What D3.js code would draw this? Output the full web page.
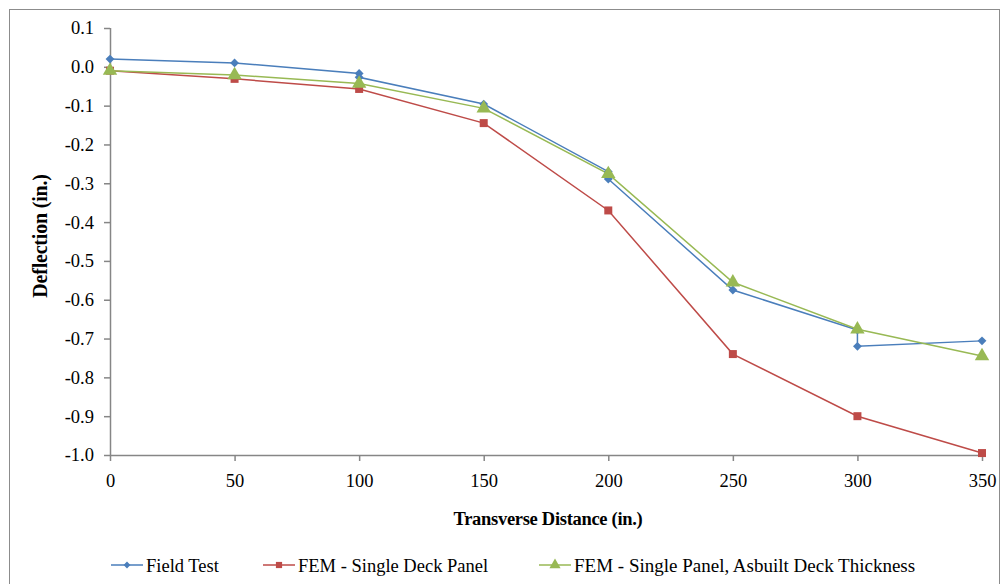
<!DOCTYPE html>
<html><head><meta charset="utf-8">
<script src="https://cdn.jsdelivr.net/npm/d3@7"></script>
<style>body{margin:0;background:#fff}svg{display:block}text{font-family:"Liberation Serif","Times New Roman",serif}</style>
</head><body><svg id="c" width="1003" height="584"></svg>
<script>
const fieldX = [0,50,100,100,150,200,200,250,300,300,350];
const fieldY = [0.02,0.01,-0.017,-0.027,-0.096,-0.27,-0.289,-0.575,-0.678,-0.72,-0.706];
const femX = [0,50,100,150,200,250,300,350];
const femSingleY = [-0.01,-0.031,-0.057,-0.145,-0.37,-0.74,-0.90,-0.995];
const femAsbuiltY = [-0.01,-0.021,-0.043,-0.107,-0.276,-0.555,-0.676,-0.745];
const xTicks = [0,50,100,150,200,250,300,350];
const yTicks = [0.1,0.0,-0.1,-0.2,-0.3,-0.4,-0.5,-0.6,-0.7,-0.8,-0.9,-1.0];
const seriesNames = ["Field Test","FEM - Single Deck Panel","FEM - Single Panel, Asbuilt Deck Thickness"];
const colors = ["#4a7ebb","#be4b48","#98b954"];

const svg = d3.select("#c");
svg.append("rect").attr("x",9.5).attr("y",9.5).attr("width",990).attr("height",590)
  .attr("fill","none").attr("stroke","#8c8c8c").attr("stroke-width",1);

const x = d3.scaleLinear().domain([0,350]).range([110,982]);
const y = d3.scaleLinear().domain([-1.0,0.1]).range([455,28]);

const f1 = d3.format(".1f");
const ax = svg.append("g").attr("transform","translate(0,455)")
  .call(d3.axisBottom(x).tickValues(xTicks).tickSize(6).tickPadding(10).tickFormat(d3.format("d")));
const ay = svg.append("g").attr("transform","translate(110,0)")
  .call(d3.axisLeft(y).tickValues(yTicks).tickSize(6).tickPadding(10).tickFormat(d=>f1(d).replace("\u2212","-")));
[ax,ay].forEach(a=>{
  a.selectAll("path,line").attr("stroke","#868686").attr("stroke-width",1.5);
  a.selectAll("text").attr("font-size",18.5).attr("fill","#000").attr("font-family","Liberation Serif");
});
ay.select(".domain").attr("d","M0.5,28V455");
ax.select(".domain").attr("d","M110,0.5H982");
ax.selectAll("text").attr("dy","0.85em");

svg.append("text").attr("x",548).attr("y",525).attr("text-anchor","middle")
  .attr("font-size",18.5).attr("font-weight","bold").attr("letter-spacing",-0.3).text("Transverse Distance (in.)");
svg.append("text").attr("transform","translate(47,236) rotate(-90)").attr("text-anchor","middle")
  .attr("font-size",20).attr("font-weight","bold").attr("letter-spacing",-0.2).text("Deflection (in.)");

const line = d3.line().x(d=>x(d[0])).y(d=>y(d[1]));
const data = [
  d3.zip(fieldX, fieldY),
  d3.zip(femX, femSingleY),
  d3.zip(femX, femAsbuiltY)
];
const symbols = [d3.symbolDiamond2, d3.symbolSquare, d3.symbolTriangle];
const sizes = [50, 64, 90];
data.forEach((ds,i)=>{
  svg.append("path").datum(ds).attr("d",line).attr("fill","none")
    .attr("stroke",colors[i]).attr("stroke-width",1.5);
});
data.forEach((ds,i)=>{
  svg.append("g").selectAll("path").data(ds).join("path")
    .attr("transform",d=>`translate(${x(d[0])},${y(d[1])})`)
    .attr("d",d3.symbol(symbols[i],sizes[i])).attr("fill",colors[i]);
});

const legX = [111,263,539];
seriesNames.forEach((n,i)=>{
  const g = svg.append("g").attr("transform",`translate(${legX[i]},565)`);
  g.append("line").attr("x1",0).attr("x2",32).attr("y1",0).attr("y2",0).attr("stroke",colors[i]).attr("stroke-width",1.5);
  g.append("path").attr("transform","translate(16,0)").attr("d",d3.symbol(symbols[i],sizes[i]*0.6)).attr("fill",colors[i]);
  g.append("text").attr("x",35).attr("y",6.5).attr("font-size",i===2?19:18.5).text(n);
});
</script></body></html>
